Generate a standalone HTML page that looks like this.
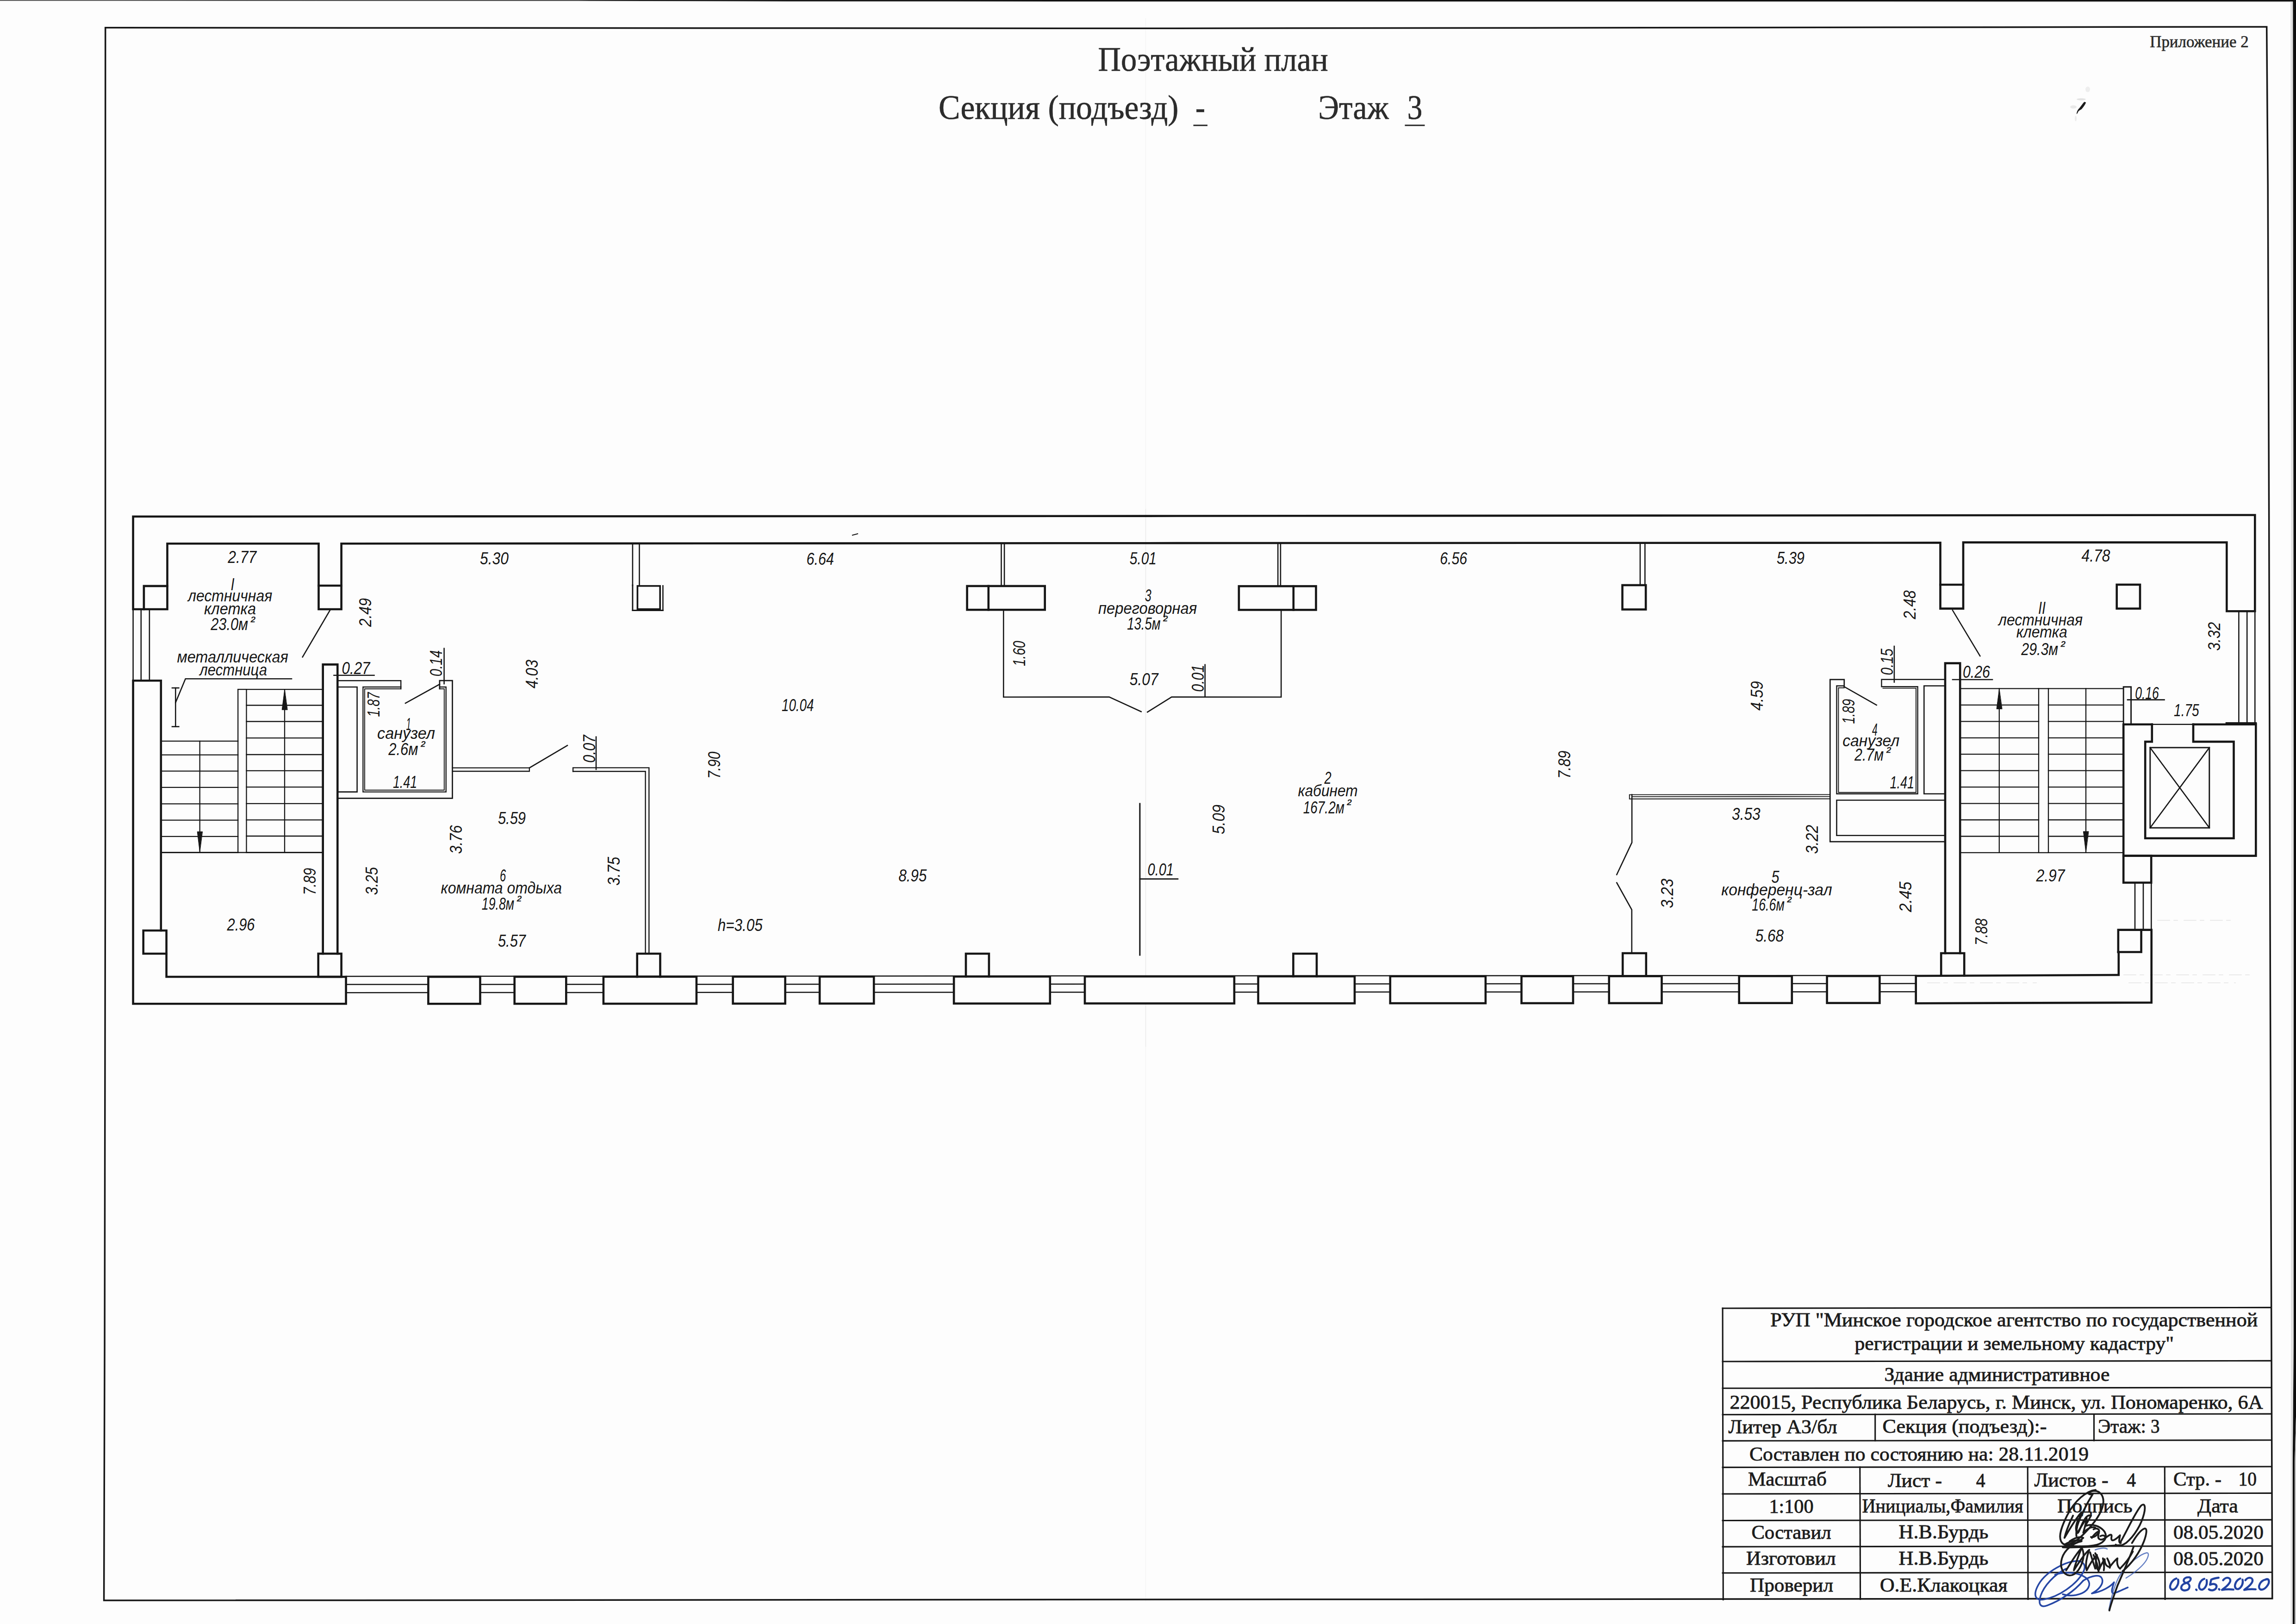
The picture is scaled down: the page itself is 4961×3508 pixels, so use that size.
<!DOCTYPE html>
<html lang="ru"><head><meta charset="utf-8"><title>Поэтажный план</title>
<style>
html,body{margin:0;padding:0;background:#fdfdfd;}
body{width:4961px;height:3508px;overflow:hidden;}
svg{display:block;}
.g{font-family:"Liberation Sans",sans-serif;font-style:italic;fill:#161616;stroke:none;}
.s{font-family:"Liberation Serif",serif;fill:#2c2c2c;stroke:#2c2c2c;stroke-width:0.7;}
.t{font-family:"Liberation Serif",serif;fill:#1c1c1c;stroke:#1c1c1c;stroke-width:0.85;}
</style></head><body>
<svg width="4961" height="3508" viewBox="0 0 4961 3508" fill="none" stroke="#161616" stroke-linecap="square" stroke-linejoin="miter">
<rect x="0" y="0" width="4961" height="3508" fill="#fdfdfd" stroke="none"/>
<g stroke="none">
<path d="M0,0 L4961,0 L4961,3.2 L3000,3.0 L1700,2.8 L1250,1.6 L0,1.3 Z" fill="#111"/>
<path d="M0,1.3 L1250,1.6 L1700,2.8 L3000,3.0 L4961,3.2 L4961,4.6 L3000,4.4 L1700,4.0 L1250,2.8 L0,2.5 Z" fill="#9a9a9a" opacity="0.5"/>
<path d="M4954.3,0 L4961,0 L4961,3060 L4958.2,3160 L4958.2,3508 L4953.8,3508 L4953.8,3160 L4955.9,2900 L4956,1700 Z" fill="#0e0e0e"/>
<path d="M4961,3060 L4958.2,3160 L4958.2,3508 L4961,3508 Z" fill="#c2c2c2"/>
<path d="M4949,4 L4954.3,4 L4956,1700 L4955.9,2900 L4953.8,3160 L4953.8,3508 L4949.5,3508 L4951,1700 Z" fill="#c8c8c8" opacity="0.5"/>
</g>
<line x1="2475.5" y1="40" x2="2475.5" y2="3460" stroke-width="1.4" style="stroke:#f4f4f4"/>
<line x1="2475.5" y1="1100" x2="2475.5" y2="2260" stroke-width="1.5" style="stroke:#eaeaea"/>
<g stroke-width="1.6" style="stroke:#e3e3e3" stroke-dasharray="26 9 8 14"><line x1="4589" y1="2105.7" x2="4871" y2="2105.7"/><line x1="4662" y1="1988" x2="4833" y2="1988"/><line x1="4165" y1="2123" x2="4400" y2="2123"/><line x1="4600" y1="2123" x2="4830" y2="2123"/></g>
<path d="M227.7,59.8 L2480.0,61.3 L4897.7,57.9 L4900.2,400.0 L4902.6,1100.0 L4905.5,2160.0 L4909.8,3453.0 L224.6,3457.1 L226.1,2900.0 L227.6,1800.0Z" stroke-width="3.5" fill="none" />
<g id="plan">
<path d="M287.6,1316.0 L361.5,1316.0 L361.5,1174.2 L688.5,1174.2 L688.5,1316.0 L737.6,1316.0 L737.6,1174.2 L2480.0,1173.2 L4192.5,1172.4 L4192.5,1314.6 L4242.0,1314.6 L4242.0,1171.6 L4811.3,1171.6 L4811.3,1320.2 L4872.3,1320.2 L4872.3,1112.5 L2480.0,1114.6 L287.6,1115.8Z" stroke-width="4.6" fill="none" />
<path d="M310.9,1316.0 L310.9,1265.9 L361.5,1265.9" stroke-width="4.6" fill="none" />
<line x1="688.5" y1="1265.0" x2="737.6" y2="1265.0" stroke-width="4.6"/>
<line x1="4192.5" y1="1263.0" x2="4242.0" y2="1263.0" stroke-width="4.6"/>
<line x1="1366.9" y1="1174.0" x2="1366.9" y2="1264.8" stroke-width="2.6"/>
<line x1="1381.5" y1="1174.0" x2="1381.5" y2="1264.8" stroke-width="2.6"/>
<line x1="2163.5" y1="1174.0" x2="2163.5" y2="1265.9" stroke-width="2.6"/>
<line x1="2170.1" y1="1174.0" x2="2170.1" y2="1265.9" stroke-width="2.6"/>
<line x1="2761.2" y1="1174.0" x2="2761.2" y2="1265.9" stroke-width="2.6"/>
<line x1="2766.9" y1="1174.0" x2="2766.9" y2="1265.9" stroke-width="2.6"/>
<line x1="3543.9" y1="1174.0" x2="3543.9" y2="1264.0" stroke-width="2.6"/>
<line x1="3554.3" y1="1174.0" x2="3554.3" y2="1264.0" stroke-width="2.6"/>
<line x1="1366.9" y1="1264.0" x2="1366.9" y2="1318.5" stroke-width="2.9"/>
<line x1="1366.9" y1="1318.5" x2="1432.4" y2="1318.5" stroke-width="2.9"/>
<line x1="1432.4" y1="1318.5" x2="1432.4" y2="1265.2" stroke-width="2.6"/>
<rect x="1377.4" y="1265.7" width="48.8" height="50.1" stroke-width="3.6" fill="none"/>
<rect x="2089.6" y="1265.9" width="168.1" height="51.3" stroke-width="4.6" fill="none"/>
<line x1="2135.8" y1="1265.9" x2="2135.8" y2="1317.2" stroke-width="4.6"/>
<rect x="2676.9" y="1266.2" width="166.6" height="51.2" stroke-width="4.6" fill="none"/>
<line x1="2794.8" y1="1266.2" x2="2794.8" y2="1317.4" stroke-width="4.6"/>
<rect x="3505.5" y="1264.0" width="50.6" height="52.5" stroke-width="4.6" fill="none"/>
<rect x="4573.7" y="1262.9" width="50.3" height="51.7" stroke-width="4.6" fill="none"/>
<line x1="287.6" y1="1317.0" x2="287.6" y2="1469.0" stroke-width="2.6"/>
<line x1="304.8" y1="1317.0" x2="304.8" y2="1469.0" stroke-width="2.6"/>
<line x1="322.9" y1="1317.0" x2="322.9" y2="1469.0" stroke-width="2.6"/>
<path d="M287.6,1470.3 L347.8,1470.3 L347.8,2010.0 L359.6,2010.0 L359.6,2110.0 L747.6,2110.0 L747.6,2168.3 L287.6,2168.3Z" stroke-width="4.6" fill="none" />
<path d="M347.8,2010.0 L309.7,2010.0 L309.7,2060.0 L359.6,2060.0" stroke-width="4.6" fill="none" />
<rect x="687.7" y="2060.0" width="49.9" height="50.0" stroke-width="4.6" fill="none"/>
<line x1="747.6" y1="2109.0" x2="4139.7" y2="2107.0" stroke-width="2.5"/>
<line x1="747.6" y1="2126.6" x2="4139.7" y2="2124.6" stroke-width="2.5"/>
<line x1="747.6" y1="2144.2" x2="4139.7" y2="2142.2" stroke-width="2.5"/>
<rect x="925.4" y="2110.0" width="112.1" height="58.3" stroke-width="4.6" fill="#fdfdfd"/>
<rect x="1111.7" y="2109.9" width="111.6" height="58.3" stroke-width="4.6" fill="#fdfdfd"/>
<rect x="1303.9" y="2109.8" width="201.0" height="58.3" stroke-width="4.6" fill="#fdfdfd"/>
<rect x="1583.6" y="2109.6" width="113.0" height="58.3" stroke-width="4.6" fill="#fdfdfd"/>
<rect x="1771.1" y="2109.5" width="117.1" height="58.3" stroke-width="4.6" fill="#fdfdfd"/>
<rect x="2061.1" y="2109.4" width="207.7" height="58.3" stroke-width="4.6" fill="#fdfdfd"/>
<rect x="2344.0" y="2109.2" width="322.9" height="58.3" stroke-width="4.6" fill="#fdfdfd"/>
<rect x="2718.6" y="2109.0" width="208.4" height="58.3" stroke-width="4.6" fill="#fdfdfd"/>
<rect x="3003.8" y="2108.8" width="206.1" height="58.3" stroke-width="4.6" fill="#fdfdfd"/>
<rect x="3287.5" y="2108.7" width="111.5" height="58.3" stroke-width="4.6" fill="#fdfdfd"/>
<rect x="3476.7" y="2108.6" width="113.8" height="58.3" stroke-width="4.6" fill="#fdfdfd"/>
<rect x="3757.7" y="2108.4" width="114.1" height="58.3" stroke-width="4.6" fill="#fdfdfd"/>
<rect x="3947.6" y="2108.3" width="113.8" height="58.3" stroke-width="4.6" fill="#fdfdfd"/>
<path d="M1376.7,2110.0 L1376.7,2060.0 L1426.5,2060.0 L1426.5,2110.0" stroke-width="4.6" fill="none" />
<path d="M2087.0,2109.3 L2087.0,2060.0 L2136.9,2060.0 L2136.9,2109.3" stroke-width="4.6" fill="none" />
<path d="M2794.4,2109.0 L2794.4,2060.0 L2845.0,2060.0 L2845.0,2109.0" stroke-width="4.6" fill="none" />
<path d="M3506.2,2108.3 L3506.2,2059.0 L3556.8,2059.0 L3556.8,2108.3" stroke-width="4.6" fill="none" />
<path d="M4139.7,2108.0 L4577.8,2106.0 L4577.8,2056.5 L4576.9,2056.5 L4576.9,2008.6 L4648.7,2008.6 L4648.7,2165.6 L4139.7,2167.2Z" stroke-width="4.6" fill="none" />
<path d="M4576.9,2056.5 L4626.6,2056.5 L4626.6,2008.6" stroke-width="4.6" fill="none" />
<path d="M4194.2,2107.5 L4194.2,2059.0 L4244.2,2059.0 L4244.2,2107.5" stroke-width="4.6" fill="none" />
<line x1="4613.0" y1="1907.0" x2="4613.0" y2="2008.0" stroke-width="2.6"/>
<line x1="4631.0" y1="1907.0" x2="4631.0" y2="2008.0" stroke-width="2.6"/>
<line x1="4648.3" y1="1907.0" x2="4648.3" y2="2008.0" stroke-width="2.6"/>
<rect x="4588.2" y="1848.6" width="60.0" height="58.0" stroke-width="4.6" fill="none"/>
<path d="M4649.8,1564.8 L4588.2,1564.8 L4588.2,1848.6 L4874.3,1848.6 L4874.3,1564.8 L4739.0,1564.8" stroke-width="4.6" fill="none" />
<line x1="4649.8" y1="1564.8" x2="4739.0" y2="1564.8" stroke-width="2.6"/>
<path d="M4649.8,1564.8 L4649.8,1602.1 L4635.2,1602.1 L4635.2,1810.8 L4826.5,1810.8 L4826.5,1602.1 L4739.0,1602.1 L4739.0,1564.8" stroke-width="4.6" fill="none" />
<rect x="4645.8" y="1614.9" width="128.0" height="173.3" stroke-width="2.9" fill="none"/>
<line x1="4645.8" y1="1614.9" x2="4773.8" y2="1788.2" stroke-width="2.6"/>
<line x1="4773.8" y1="1614.9" x2="4645.8" y2="1788.2" stroke-width="2.6"/>
<line x1="4811.0" y1="1562.3" x2="4874.0" y2="1562.3" stroke-width="4.6"/>
<line x1="4837.4" y1="1321.0" x2="4837.4" y2="1562.0" stroke-width="2.6"/>
<line x1="4855.2" y1="1321.0" x2="4855.2" y2="1562.0" stroke-width="2.6"/>
<line x1="4872.3" y1="1321.0" x2="4872.3" y2="1562.0" stroke-width="2.6"/>
<path d="M697.7,2060.0 L697.7,1435.4 L729.3,1435.4 L729.3,2060.0" stroke-width="4.6" fill="none" />
<path d="M4203.0,2059.0 L4203.0,1432.6 L4235.2,1432.6 L4235.2,2059.0" stroke-width="4.6" fill="none" />
<line x1="532.5" y1="1489.1" x2="696.0" y2="1489.1" stroke-width="2.3"/>
<line x1="532.5" y1="1523.5" x2="696.0" y2="1523.5" stroke-width="2.3"/>
<line x1="532.5" y1="1558.5" x2="696.0" y2="1558.5" stroke-width="2.3"/>
<line x1="532.5" y1="1594.2" x2="696.0" y2="1594.2" stroke-width="2.3"/>
<line x1="532.5" y1="1630.0" x2="696.0" y2="1630.0" stroke-width="2.3"/>
<line x1="532.5" y1="1664.9" x2="696.0" y2="1664.9" stroke-width="2.3"/>
<line x1="532.5" y1="1700.1" x2="696.0" y2="1700.1" stroke-width="2.3"/>
<line x1="532.5" y1="1735.9" x2="696.0" y2="1735.9" stroke-width="2.3"/>
<line x1="532.5" y1="1771.1" x2="696.0" y2="1771.1" stroke-width="2.3"/>
<line x1="532.5" y1="1806.0" x2="696.0" y2="1806.0" stroke-width="2.3"/>
<line x1="532.5" y1="1841.5" x2="696.0" y2="1841.5" stroke-width="2.3"/>
<line x1="514.2" y1="1489.1" x2="532.5" y2="1489.1" stroke-width="2.3"/>
<line x1="514.2" y1="1489.1" x2="514.2" y2="1841.5" stroke-width="2.3"/>
<line x1="532.5" y1="1489.1" x2="532.5" y2="1841.5" stroke-width="2.3"/>
<line x1="349.7" y1="1600.9" x2="514.2" y2="1600.9" stroke-width="2.3"/>
<line x1="349.7" y1="1630.7" x2="514.2" y2="1630.7" stroke-width="2.3"/>
<line x1="349.7" y1="1665.7" x2="514.2" y2="1665.7" stroke-width="2.3"/>
<line x1="349.7" y1="1700.9" x2="514.2" y2="1700.9" stroke-width="2.3"/>
<line x1="349.7" y1="1736.3" x2="514.2" y2="1736.3" stroke-width="2.3"/>
<line x1="349.7" y1="1771.6" x2="514.2" y2="1771.6" stroke-width="2.3"/>
<line x1="349.7" y1="1806.8" x2="514.2" y2="1806.8" stroke-width="2.3"/>
<line x1="349.7" y1="1841.5" x2="514.2" y2="1841.5" stroke-width="2.3"/>
<line x1="349.7" y1="1841.5" x2="696.0" y2="1841.5" stroke-width="2.3"/>
<line x1="431.7" y1="1600.9" x2="431.7" y2="1841.0" stroke-width="2.3"/>
<line x1="615.0" y1="1489.1" x2="615.0" y2="1841.5" stroke-width="2.3"/>
<path d="M615,1489.1 L609.2,1533.2 L620.8,1533.2 Z" style="fill:#161616" stroke-width="1"/>
<path d="M431.7,1841 L426.2,1796.5 L437.2,1796.5 Z" style="fill:#161616" stroke-width="1"/>
<line x1="379.3" y1="1486.0" x2="379.3" y2="1569.6" stroke-width="2.6"/>
<line x1="372.0" y1="1486.0" x2="386.3" y2="1486.0" stroke-width="2.6"/>
<line x1="372.0" y1="1569.6" x2="386.3" y2="1569.6" stroke-width="2.6"/>
<path d="M630.0,1466.2 L400.7,1466.2 L379.3,1517.9" stroke-width="2.6" fill="none" />
<line x1="712.9" y1="1318.3" x2="653.7" y2="1419.2" stroke-width="2.6"/>
<line x1="4236.0" y1="1487.4" x2="4405.0" y2="1487.4" stroke-width="2.3"/>
<line x1="4426.0" y1="1487.4" x2="4587.8" y2="1487.4" stroke-width="2.3"/>
<line x1="4236.0" y1="1522.9" x2="4405.0" y2="1522.9" stroke-width="2.3"/>
<line x1="4426.0" y1="1522.9" x2="4587.8" y2="1522.9" stroke-width="2.3"/>
<line x1="4236.0" y1="1558.3" x2="4405.0" y2="1558.3" stroke-width="2.3"/>
<line x1="4426.0" y1="1558.3" x2="4587.8" y2="1558.3" stroke-width="2.3"/>
<line x1="4236.0" y1="1593.8" x2="4405.0" y2="1593.8" stroke-width="2.3"/>
<line x1="4426.0" y1="1593.8" x2="4587.8" y2="1593.8" stroke-width="2.3"/>
<line x1="4236.0" y1="1629.2" x2="4405.0" y2="1629.2" stroke-width="2.3"/>
<line x1="4426.0" y1="1629.2" x2="4587.8" y2="1629.2" stroke-width="2.3"/>
<line x1="4236.0" y1="1664.7" x2="4405.0" y2="1664.7" stroke-width="2.3"/>
<line x1="4426.0" y1="1664.7" x2="4587.8" y2="1664.7" stroke-width="2.3"/>
<line x1="4236.0" y1="1700.1" x2="4405.0" y2="1700.1" stroke-width="2.3"/>
<line x1="4426.0" y1="1700.1" x2="4587.8" y2="1700.1" stroke-width="2.3"/>
<line x1="4236.0" y1="1735.6" x2="4405.0" y2="1735.6" stroke-width="2.3"/>
<line x1="4426.0" y1="1735.6" x2="4587.8" y2="1735.6" stroke-width="2.3"/>
<line x1="4236.0" y1="1771.0" x2="4405.0" y2="1771.0" stroke-width="2.3"/>
<line x1="4426.0" y1="1771.0" x2="4587.8" y2="1771.0" stroke-width="2.3"/>
<line x1="4236.0" y1="1806.5" x2="4405.0" y2="1806.5" stroke-width="2.3"/>
<line x1="4426.0" y1="1806.5" x2="4587.8" y2="1806.5" stroke-width="2.3"/>
<line x1="4236.0" y1="1841.9" x2="4405.0" y2="1841.9" stroke-width="2.3"/>
<line x1="4426.0" y1="1841.9" x2="4587.8" y2="1841.9" stroke-width="2.3"/>
<line x1="4405.0" y1="1487.4" x2="4426.0" y2="1487.4" stroke-width="2.3"/>
<line x1="4405.0" y1="1487.4" x2="4405.0" y2="1841.9" stroke-width="2.3"/>
<line x1="4426.0" y1="1487.4" x2="4426.0" y2="1841.9" stroke-width="2.3"/>
<line x1="4405.0" y1="1841.9" x2="4426.0" y2="1841.9" stroke-width="2.3"/>
<line x1="4319.8" y1="1487.4" x2="4319.8" y2="1841.9" stroke-width="2.3"/>
<line x1="4507.0" y1="1487.4" x2="4507.0" y2="1841.9" stroke-width="2.3"/>
<path d="M4319.8,1487.4 L4314,1531.5 L4325.6,1531.5 Z" style="fill:#161616" stroke-width="1"/>
<path d="M4507,1841.5 L4501.4,1796 L4512.6,1796 Z" style="fill:#161616" stroke-width="1"/>
<path d="M4588.2,1564.0 L4588.2,1483.8 L4604.6,1483.8 L4604.6,1564.0" stroke-width="2.9" fill="none" />
<line x1="4219.0" y1="1318.3" x2="4278.3" y2="1417.0" stroke-width="2.6"/>
<path d="M729.3,1470.2 L866.2,1470.2 L866.2,1488.0" stroke-width="2.4" fill="none" />
<path d="M866.2,1488.0 L788.0,1488.0 L788.0,1706.7 L959.8,1706.7 L959.8,1488.0 L949.9,1488.0" stroke-width="1.9" fill="none" />
<path d="M949.9,1488.0 L949.9,1470.2 L977.5,1470.2 L977.5,1724.4 L729.3,1724.4" stroke-width="2.6999999999999997" fill="none" />
<path d="M866.2,1484.0 L784.4,1484.0 L784.4,1710.6 L963.7,1710.6 L963.7,1484.0 L949.9,1484.0" stroke-width="2.4" fill="none" />
<path d="M729.3,1484.0 L771.6,1484.0 L771.6,1710.6 L729.3,1710.6" stroke-width="2.6" fill="none" />
<line x1="949.9" y1="1478.1" x2="876.0" y2="1519.1" stroke-width="2.6"/>
<path d="M3984.8,1483.3 L3984.8,1467.8 L3954.3,1467.8 L3954.3,1818.2 L4202.5,1818.2" stroke-width="2.6999999999999997" fill="none" />
<path d="M3984.8,1481.5 L3968.5,1481.5 L3968.5,1714.8 L4143.6,1714.8 L4143.6,1483.3 L4065.5,1483.3 L4065.5,1467.8 L4202.5,1467.8" stroke-width="2.4" fill="none" />
<path d="M3984.8,1485.8 L3972.4,1485.8 L3972.4,1711.7 L4139.9,1711.7 L4139.9,1486.6 L4068.5,1486.6" stroke-width="1.9" fill="none" />
<path d="M4202.5,1481.5 L4157.3,1481.5 L4157.3,1714.8 L4202.5,1714.8" stroke-width="2.6" fill="none" />
<path d="M4202.5,1728.5 L3968.5,1728.5 L3968.5,1804.7 L4202.5,1804.7" stroke-width="2.6" fill="none" />
<line x1="3984.8" y1="1483.3" x2="4054.6" y2="1522.9" stroke-width="2.6"/>
<path d="M977.5,1658.6 L1143.9,1658.6 L1143.9,1666.0 L977.5,1666.0" stroke-width="2.3" fill="none" />
<line x1="1143.9" y1="1658.6" x2="1225.9" y2="1610.2" stroke-width="2.6"/>
<path d="M1238.1,1666.2 L1238.1,1658.4 L1402.3,1658.4 L1402.3,2060.0" stroke-width="2.4" fill="none" />
<path d="M1238.1,1666.2 L1394.6,1666.2 L1394.6,2060.0" stroke-width="2.4" fill="none" />
<path d="M3954.3,1716.4 L3520.8,1716.6 L3520.8,1725.7 L3954.3,1725.5" stroke-width="1.9" fill="none" />
<line x1="3526.0" y1="1720.9" x2="3954.3" y2="1720.7" stroke-width="1.8"/>
<path d="M3526.1,1716.6 L3526.1,1819.9 L3493.3,1889.3" stroke-width="2.6" fill="none" />
<path d="M3493.3,1906.7 L3525.8,1965.0 L3525.8,2059.0" stroke-width="2.6" fill="none" />
<path d="M2168.3,1317.4 L2168.3,1505.7 L2396.7,1505.5 L2465.7,1537.2" stroke-width="2.6" fill="none" />
<path d="M2479.3,1538.2 L2531.5,1505.6 L2768.2,1505.7 L2768.2,1318.0" stroke-width="2.6" fill="none" />
<line x1="2462.9" y1="1736.0" x2="2462.9" y2="2063.0" stroke-width="3.0"/>
<line x1="721.5" y1="1458.8" x2="808.5" y2="1458.8" stroke-width="2.6"/>
<line x1="959.6" y1="1400.7" x2="959.6" y2="1477.0" stroke-width="2.6"/>
<line x1="1288.0" y1="1591.7" x2="1288.0" y2="1662.0" stroke-width="2.6"/>
<line x1="2603.7" y1="1435.8" x2="2603.7" y2="1505.7" stroke-width="2.6"/>
<line x1="2463.0" y1="1898.6" x2="2545.0" y2="1898.6" stroke-width="2.6"/>
<line x1="4092.9" y1="1396.0" x2="4092.9" y2="1473.5" stroke-width="2.6"/>
<line x1="4219.0" y1="1468.0" x2="4305.0" y2="1468.0" stroke-width="2.6"/>
<line x1="4597.0" y1="1511.6" x2="4676.5" y2="1511.6" stroke-width="2.6"/>
</g>
<path d="M1842,1156 L1853,1153" stroke-width="2.2"/>
<g stroke="none"><ellipse cx="4480" cy="231" rx="7" ry="3.5" fill="#e9e9e9"/><ellipse cx="4497" cy="214.5" rx="10" ry="2.2" fill="#e2e2e2"/><ellipse cx="4511" cy="193" rx="5" ry="6" fill="#eeeeee"/><ellipse cx="4485" cy="256" rx="2" ry="6" fill="#ebebeb"/><path d="M4486.8,246.5 C4487.5,240 4489.5,237 4493,233.5 C4496.5,229 4500,223.5 4503.5,220 L4507.3,221.2 C4505.5,226 4501.5,231.5 4497.5,236 C4494.5,238 4491.5,239 4490.3,241.5 C4489.3,244 4488.3,246 4486.8,246.5 Z" fill="#1a1a1a"/></g>
<text class="g" x="492.3" y="1215.9" font-size="37.5" textLength="61.9" lengthAdjust="spacingAndGlyphs">2.77</text>
<text class="g" x="1037.1" y="1218.8" font-size="37.5" textLength="61.9" lengthAdjust="spacingAndGlyphs">5.30</text>
<text class="g" x="1742.6" y="1219.9" font-size="37.5" textLength="59.4" lengthAdjust="spacingAndGlyphs">6.64</text>
<text class="g" x="2440.8" y="1219.2" font-size="37.5" textLength="58.2" lengthAdjust="spacingAndGlyphs">5.01</text>
<text class="g" x="3111.2" y="1218.7" font-size="37.5" textLength="59.0" lengthAdjust="spacingAndGlyphs">6.56</text>
<text class="g" x="3838.9" y="1218.2" font-size="37.5" textLength="60.1" lengthAdjust="spacingAndGlyphs">5.39</text>
<text class="g" x="4497.6" y="1212.5" font-size="37.5" textLength="61.9" lengthAdjust="spacingAndGlyphs">4.78</text>
<text class="g" x="1689.0" y="1535.9" font-size="37.5" textLength="69.4" lengthAdjust="spacingAndGlyphs">10.04</text>
<text class="g" x="2440.8" y="1480.3" font-size="37.5" textLength="61.9" lengthAdjust="spacingAndGlyphs">5.07</text>
<text class="g" x="738.5" y="1456.1" font-size="37.5" textLength="61.0" lengthAdjust="spacingAndGlyphs">0.27</text>
<text class="g" x="848.9" y="1702.1" font-size="37.5" textLength="52.3" lengthAdjust="spacingAndGlyphs">1.41</text>
<text class="g" x="1075.9" y="1780.4" font-size="37.5" textLength="60.1" lengthAdjust="spacingAndGlyphs">5.59</text>
<text class="g" x="1075.9" y="2044.6" font-size="37.5" textLength="60.1" lengthAdjust="spacingAndGlyphs">5.57</text>
<text class="g" x="490.5" y="2009.5" font-size="37.5" textLength="60.0" lengthAdjust="spacingAndGlyphs">2.96</text>
<text class="g" x="1550.7" y="2011.2" font-size="37.5" textLength="97.0" lengthAdjust="spacingAndGlyphs">h=3.05</text>
<text class="g" x="1941.4" y="1904.4" font-size="37.5" textLength="60.9" lengthAdjust="spacingAndGlyphs">8.95</text>
<text class="g" x="2479.5" y="1890.7" font-size="37.5" textLength="56.5" lengthAdjust="spacingAndGlyphs">0.01</text>
<text class="g" x="3742.1" y="1771.3" font-size="37.5" textLength="61.6" lengthAdjust="spacingAndGlyphs">3.53</text>
<text class="g" x="3792.7" y="2033.7" font-size="37.5" textLength="61.3" lengthAdjust="spacingAndGlyphs">5.68</text>
<text class="g" x="4399.5" y="1904.4" font-size="37.5" textLength="62.0" lengthAdjust="spacingAndGlyphs">2.97</text>
<text class="g" x="4083.4" y="1702.6" font-size="37.5" textLength="52.7" lengthAdjust="spacingAndGlyphs">1.41</text>
<text class="g" x="4240.9" y="1464.2" font-size="37.5" textLength="59.0" lengthAdjust="spacingAndGlyphs">0.26</text>
<text class="g" x="4613.2" y="1509.8" font-size="37.5" textLength="51.7" lengthAdjust="spacingAndGlyphs">0.16</text>
<text class="g" x="4697.1" y="1547.0" font-size="37.5" textLength="54.6" lengthAdjust="spacingAndGlyphs">1.75</text>
<text class="g" transform="translate(802.0,1354.1) rotate(-90)" font-size="37.5" textLength="62.1" lengthAdjust="spacingAndGlyphs">2.49</text>
<text class="g" transform="translate(955.1,1461.2) rotate(-90)" font-size="37.5" textLength="56.7" lengthAdjust="spacingAndGlyphs">0.14</text>
<text class="g" transform="translate(1162.1,1487.1) rotate(-90)" font-size="37.5" textLength="62.1" lengthAdjust="spacingAndGlyphs">4.03</text>
<text class="g" transform="translate(820.2,1548.6) rotate(-90)" font-size="37.5" textLength="53.2" lengthAdjust="spacingAndGlyphs">1.87</text>
<text class="g" transform="translate(1285.8,1647.8) rotate(-90)" font-size="37.5" textLength="60.3" lengthAdjust="spacingAndGlyphs">0.07</text>
<text class="g" transform="translate(1556.4,1681.9) rotate(-90)" font-size="37.5" textLength="58.4" lengthAdjust="spacingAndGlyphs">7.90</text>
<text class="g" transform="translate(997.6,1844.5) rotate(-90)" font-size="37.5" textLength="62.0" lengthAdjust="spacingAndGlyphs">3.76</text>
<text class="g" transform="translate(816.0,1933.2) rotate(-90)" font-size="37.5" textLength="60.3" lengthAdjust="spacingAndGlyphs">3.25</text>
<text class="g" transform="translate(681.9,1933.2) rotate(-90)" font-size="37.5" textLength="58.4" lengthAdjust="spacingAndGlyphs">7.89</text>
<text class="g" transform="translate(1339.4,1912.9) rotate(-90)" font-size="37.5" textLength="62.1" lengthAdjust="spacingAndGlyphs">3.75</text>
<text class="g" transform="translate(2215.0,1439.1) rotate(-90)" font-size="37.5" textLength="54.8" lengthAdjust="spacingAndGlyphs">1.60</text>
<text class="g" transform="translate(2600.8,1494.5) rotate(-90)" font-size="37.5" textLength="58.4" lengthAdjust="spacingAndGlyphs">0.01</text>
<text class="g" transform="translate(2645.9,1802.0) rotate(-90)" font-size="37.5" textLength="63.9" lengthAdjust="spacingAndGlyphs">5.09</text>
<text class="g" transform="translate(3393.2,1681.9) rotate(-90)" font-size="37.5" textLength="60.4" lengthAdjust="spacingAndGlyphs">7.89</text>
<text class="g" transform="translate(3808.7,1535.1) rotate(-90)" font-size="37.5" textLength="63.9" lengthAdjust="spacingAndGlyphs">4.59</text>
<text class="g" transform="translate(4139.4,1337.5) rotate(-90)" font-size="37.5" textLength="62.2" lengthAdjust="spacingAndGlyphs">2.48</text>
<text class="g" transform="translate(4089.6,1458.5) rotate(-90)" font-size="37.5" textLength="57.5" lengthAdjust="spacingAndGlyphs">0.15</text>
<text class="g" transform="translate(4006.7,1563.4) rotate(-90)" font-size="37.5" textLength="53.4" lengthAdjust="spacingAndGlyphs">1.89</text>
<text class="g" transform="translate(3615.0,1961.7) rotate(-90)" font-size="37.5" textLength="63.6" lengthAdjust="spacingAndGlyphs">3.23</text>
<text class="g" transform="translate(3928.2,1844.5) rotate(-90)" font-size="37.5" textLength="62.8" lengthAdjust="spacingAndGlyphs">3.22</text>
<text class="g" transform="translate(4129.6,1970.2) rotate(-90)" font-size="37.5" textLength="65.9" lengthAdjust="spacingAndGlyphs">2.45</text>
<text class="g" transform="translate(4293.5,2042.2) rotate(-90)" font-size="37.5" textLength="58.4" lengthAdjust="spacingAndGlyphs">7.88</text>
<text class="g" transform="translate(4797.1,1405.8) rotate(-90)" font-size="37.5" textLength="62.1" lengthAdjust="spacingAndGlyphs">3.32</text>
<text class="g" x="498.5" y="1274.7" font-size="37.5" textLength="8.0" lengthAdjust="spacingAndGlyphs">I</text>
<text class="g" x="406.0" y="1299.3" font-size="34.8" textLength="182.2" lengthAdjust="spacingAndGlyphs">лестничная</text>
<text class="g" x="441.0" y="1326.8" font-size="34.8" textLength="112.0" lengthAdjust="spacingAndGlyphs">клетка</text>
<text class="g" x="455.3" y="1361.3" font-size="37.5" textLength="80.7" lengthAdjust="spacingAndGlyphs">23.0м</text>
<text class="g" x="541.8" y="1343.5" font-size="16.5" style="stroke:#161616;stroke-width:0.7" textLength="10" lengthAdjust="spacingAndGlyphs">2</text>
<text class="g" x="382.4" y="1431.4" font-size="34.8" textLength="240.4" lengthAdjust="spacingAndGlyphs">металлическая</text>
<text class="g" x="431.2" y="1458.8" font-size="34.8" textLength="145.8" lengthAdjust="spacingAndGlyphs">лестница</text>
<text class="g" x="877.5" y="1577.2" font-size="37.5" textLength="10.5" lengthAdjust="spacingAndGlyphs">1</text>
<text class="g" x="815.1" y="1596.4" font-size="34.8" textLength="124.9" lengthAdjust="spacingAndGlyphs">санузел</text>
<text class="g" x="839.2" y="1631.0" font-size="37.5" textLength="64.2" lengthAdjust="spacingAndGlyphs">2.6м</text>
<text class="g" x="909.2" y="1613.3" font-size="16.5" style="stroke:#161616;stroke-width:0.7" textLength="10" lengthAdjust="spacingAndGlyphs">2</text>
<text class="g" x="1080.0" y="1903.7" font-size="37.5" textLength="13.2" lengthAdjust="spacingAndGlyphs">6</text>
<text class="g" x="952.6" y="1930.3" font-size="34.8" textLength="261.4" lengthAdjust="spacingAndGlyphs">комната отдыха</text>
<text class="g" x="1040.8" y="1964.8" font-size="37.5" textLength="70.4" lengthAdjust="spacingAndGlyphs">19.8м</text>
<text class="g" x="1117.0" y="1947.1" font-size="16.5" style="stroke:#161616;stroke-width:0.7" textLength="10" lengthAdjust="spacingAndGlyphs">2</text>
<text class="g" x="2473.7" y="1299.0" font-size="37.5" textLength="14.0" lengthAdjust="spacingAndGlyphs">3</text>
<text class="g" x="2372.9" y="1326.4" font-size="34.8" textLength="213.5" lengthAdjust="spacingAndGlyphs">переговорная</text>
<text class="g" x="2435.2" y="1360.1" font-size="37.5" textLength="72.3" lengthAdjust="spacingAndGlyphs">13.5м</text>
<text class="g" x="2513.3" y="1342.3" font-size="16.5" style="stroke:#161616;stroke-width:0.7" textLength="10" lengthAdjust="spacingAndGlyphs">2</text>
<text class="g" x="2861.6" y="1692.7" font-size="37.5" textLength="15.2" lengthAdjust="spacingAndGlyphs">2</text>
<text class="g" x="2804.5" y="1719.6" font-size="34.8" textLength="129.2" lengthAdjust="spacingAndGlyphs">кабинет</text>
<text class="g" x="2815.8" y="1756.8" font-size="37.5" textLength="89.0" lengthAdjust="spacingAndGlyphs">167.2м</text>
<text class="g" x="2910.6" y="1739.1" font-size="16.5" style="stroke:#161616;stroke-width:0.7" textLength="10" lengthAdjust="spacingAndGlyphs">2</text>
<text class="g" x="4045.0" y="1589.1" font-size="37.5" textLength="11.7" lengthAdjust="spacingAndGlyphs">4</text>
<text class="g" x="3981.2" y="1612.2" font-size="34.8" textLength="123.1" lengthAdjust="spacingAndGlyphs">санузел</text>
<text class="g" x="4007.1" y="1643.4" font-size="37.5" textLength="63.1" lengthAdjust="spacingAndGlyphs">2.7м</text>
<text class="g" x="4076.0" y="1625.7" font-size="16.5" style="stroke:#161616;stroke-width:0.7" textLength="10" lengthAdjust="spacingAndGlyphs">2</text>
<text class="g" x="3827.5" y="1906.5" font-size="37.5" textLength="17.0" lengthAdjust="spacingAndGlyphs">5</text>
<text class="g" x="3719.3" y="1934.0" font-size="34.8" textLength="239.4" lengthAdjust="spacingAndGlyphs">конференц-зал</text>
<text class="g" x="3785.3" y="1966.9" font-size="37.5" textLength="70.5" lengthAdjust="spacingAndGlyphs">16.6м</text>
<text class="g" x="3861.6" y="1949.1" font-size="16.5" style="stroke:#161616;stroke-width:0.7" textLength="10" lengthAdjust="spacingAndGlyphs">2</text>
<text class="g" x="4403.9" y="1326.0" font-size="37.5" textLength="16.1" lengthAdjust="spacingAndGlyphs">II</text>
<text class="g" x="4317.9" y="1351.2" font-size="34.8" textLength="182.1" lengthAdjust="spacingAndGlyphs">лестничная</text>
<text class="g" x="4356.7" y="1377.1" font-size="34.8" textLength="110.0" lengthAdjust="spacingAndGlyphs">клетка</text>
<text class="g" x="4367.3" y="1415.0" font-size="37.5" textLength="79.7" lengthAdjust="spacingAndGlyphs">29.3м</text>
<text class="g" x="4452.8" y="1397.3" font-size="16.5" style="stroke:#161616;stroke-width:0.7" textLength="10" lengthAdjust="spacingAndGlyphs">2</text>
<text class="s" x="2372.6" y="152.8" font-size="73.5" textLength="497.0" lengthAdjust="spacingAndGlyphs">Поэтажный план</text>
<text class="s" x="2028.0" y="256.5" font-size="73.5" textLength="518.4" lengthAdjust="spacingAndGlyphs">Секция (подъезд)</text>
<text class="s" x="2583.0" y="256.5" font-size="73.5" textLength="21.0" lengthAdjust="spacingAndGlyphs">-</text>
<text class="s" x="2848.2" y="256.5" font-size="73.5" textLength="152.5" lengthAdjust="spacingAndGlyphs">Этаж</text>
<text class="s" x="3040.8" y="256.5" font-size="73.5" textLength="32.6" lengthAdjust="spacingAndGlyphs">3</text>
<g stroke-width="3" style="stroke:#262626"><line x1="2580" y1="270.8" x2="2607.5" y2="270.8"/><line x1="3037" y1="270.8" x2="3077" y2="270.8"/></g>
<text class="s" x="4645.2" y="102.2" font-size="36.5" textLength="213.4" lengthAdjust="spacingAndGlyphs">Приложение 2</text>
<g id="tb" stroke-width="3.1">
<line x1="3722.1" y1="2826.0" x2="4907.0" y2="2824.4"/>
<line x1="3722.1" y1="2941.0" x2="4907.0" y2="2939.4"/>
<line x1="3722.1" y1="2998.8" x2="4907.0" y2="2997.2"/>
<line x1="3722.1" y1="3055.7" x2="4907.0" y2="3054.1"/>
<line x1="3722.1" y1="3112.4" x2="4907.0" y2="3110.8"/>
<line x1="3722.1" y1="3169.6" x2="4907.0" y2="3168.0"/>
<line x1="3722.1" y1="3227.0" x2="4907.0" y2="3225.4"/>
<line x1="3722.1" y1="3284.5" x2="4907.0" y2="3282.9"/>
<line x1="3722.1" y1="3341.1" x2="4907.0" y2="3339.5"/>
<line x1="3722.1" y1="3397.8" x2="4907.0" y2="3396.2"/>
<line x1="3722.1" y1="2826.0" x2="3723.2999999999997" y2="3455.5"/>
<line x1="4051.7" y1="3055.2" x2="4051.7" y2="3111.8"/>
<line x1="4524.5" y1="3055.2" x2="4524.5" y2="3111.8"/>
<line x1="4018.8" y1="3169" x2="4019.6000000000004" y2="3454.5"/>
<line x1="4381.2" y1="3169" x2="4382.0" y2="3454.5"/>
<line x1="4677.3" y1="3169" x2="4678.1" y2="3454.5"/>
</g>
<text class="t" x="3825.2" y="2865.0" font-size="43" textLength="1053.1" lengthAdjust="spacingAndGlyphs">РУП "Минское городское агентство по государственной</text>
<text class="t" x="4007.5" y="2915.9" font-size="43" textLength="689.6" lengthAdjust="spacingAndGlyphs">регистрации и земельному кадастру"</text>
<text class="t" x="4071.5" y="2982.7" font-size="43" textLength="486.9" lengthAdjust="spacingAndGlyphs">Здание административное</text>
<text class="t" x="3737.4" y="3042.6" font-size="43" textLength="1152.2" lengthAdjust="spacingAndGlyphs">220015, Республика Беларусь, г. Минск, ул. Пономаренко, 6А</text>
<text class="t" x="3734.6" y="3096.2" font-size="43" textLength="235.0" lengthAdjust="spacingAndGlyphs">Литер А3/бл</text>
<text class="t" x="4067.5" y="3094.5" font-size="43" textLength="355.0" lengthAdjust="spacingAndGlyphs">Секция (подъезд):-</text>
<text class="t" x="4533.0" y="3094.5" font-size="43" textLength="104.0" lengthAdjust="spacingAndGlyphs">Этаж:</text>
<text class="t" x="4647.0" y="3094.5" font-size="43" textLength="19.5" lengthAdjust="spacingAndGlyphs">3</text>
<text class="t" x="3779.9" y="3154.8" font-size="43" textLength="733.2" lengthAdjust="spacingAndGlyphs">Составлен по состоянию на: 28.11.2019</text>
<text class="t" x="3777.0" y="3208.6" font-size="43" textLength="169.9" lengthAdjust="spacingAndGlyphs">Масштаб</text>
<text class="t" x="4078.9" y="3211.5" font-size="43" textLength="117.1" lengthAdjust="spacingAndGlyphs">Лист -</text>
<text class="t" x="4269.7" y="3211.5" font-size="43" textLength="19.8" lengthAdjust="spacingAndGlyphs">4</text>
<text class="t" x="4395.4" y="3210.5" font-size="43" textLength="160.2" lengthAdjust="spacingAndGlyphs">Листов -</text>
<text class="t" x="4595.2" y="3210.5" font-size="43" textLength="19.8" lengthAdjust="spacingAndGlyphs">4</text>
<text class="t" x="4696.0" y="3209.0" font-size="43" textLength="104.0" lengthAdjust="spacingAndGlyphs">Стр. -</text>
<text class="t" x="4836.5" y="3209.0" font-size="43" textLength="39.5" lengthAdjust="spacingAndGlyphs">10</text>
<text class="t" x="3822.4" y="3268.0" font-size="43" textLength="96.2" lengthAdjust="spacingAndGlyphs">1:100</text>
<text class="t" x="4023.4" y="3267.0" font-size="43" textLength="348.2" lengthAdjust="spacingAndGlyphs">Инициалы,Фамилия</text>
<text class="t" x="4445.2" y="3266.5" font-size="43" textLength="162.5" lengthAdjust="spacingAndGlyphs">Подпись</text>
<text class="t" x="4748.1" y="3266.5" font-size="43" textLength="87.8" lengthAdjust="spacingAndGlyphs">Дата</text>
<text class="t" x="3784.4" y="3323.6" font-size="43" textLength="172.2" lengthAdjust="spacingAndGlyphs">Составил</text>
<text class="t" x="4102.6" y="3322.5" font-size="43" textLength="193.7" lengthAdjust="spacingAndGlyphs">Н.В.Бурдь</text>
<text class="t" x="4696.0" y="3323.5" font-size="43" textLength="194.8" lengthAdjust="spacingAndGlyphs">08.05.2020</text>
<text class="t" x="3773.1" y="3380.2" font-size="43" textLength="193.6" lengthAdjust="spacingAndGlyphs">Изготовил</text>
<text class="t" x="4102.6" y="3379.5" font-size="43" textLength="193.7" lengthAdjust="spacingAndGlyphs">Н.В.Бурдь</text>
<text class="t" x="4696.0" y="3380.7" font-size="43" textLength="194.8" lengthAdjust="spacingAndGlyphs">08.05.2020</text>
<text class="t" x="3781.0" y="3438.0" font-size="43" textLength="180.0" lengthAdjust="spacingAndGlyphs">Проверил</text>
<text class="t" x="4061.9" y="3437.5" font-size="43" textLength="275.7" lengthAdjust="spacingAndGlyphs">О.Е.Клакоцкая</text>
<g transform="translate(4361,3200) scale(0.1847)" fill="none" stroke-linecap="round" stroke-linejoin="round">
<g style="stroke:#2546a4" stroke-width="19">
<path d="M700,930 C560,930 330,1050 240,1200 C170,1320 190,1400 300,1380 C470,1350 680,1210 760,1060 C800,980 760,940 700,930"/>
<path d="M560,1020 C420,1090 300,1220 260,1340 C230,1440 260,1480 340,1450 C480,1400 650,1290 760,1160"/>
<path d="M430,1090 C520,1060 640,1060 720,1090 C830,1130 860,1200 800,1270 C740,1330 620,1350 520,1320"/>
<path d="M760,1160 C860,1100 960,1080 980,1140 C1000,1200 940,1270 860,1310 C980,1290 1080,1230 1120,1180 C1100,1240 1080,1300 1110,1310 C1160,1300 1230,1260 1280,1240"/>
</g>
<g style="stroke:#3d5fb5" stroke-width="13" opacity="0.8">
<path d="M1060,1500 C1080,1380 1130,1180 1200,1080 C1300,950 1430,850 1500,835 C1540,830 1520,900 1470,960 C1420,1020 1330,1090 1260,1130"/>
<path d="M900,800 C960,780 1010,770 1040,790"/>
</g>
<g style="stroke:#1b1b1b" stroke-width="21">
<path d="M905,100 C800,110 660,220 570,400 C500,540 470,640 500,700 C540,780 650,730 760,620 C880,500 990,360 995,240 C998,160 950,105 880,112 C820,120 800,160 860,150"/>
<path d="M870,150 C800,260 720,420 690,520 C670,600 690,640 720,560 C760,460 800,380 850,400 C820,460 790,500 780,530"/>
<path d="M640,400 C600,480 560,580 540,660 C600,560 680,420 740,360 C700,460 670,560 680,640"/>
<path d="M790,520 C860,490 960,520 1010,590 C1050,660 1000,730 880,750 C760,770 620,760 540,740 C600,700 680,680 740,690"/>
<path d="M860,660 C900,600 960,560 940,610 C920,680 960,700 1020,660 C1060,630 1100,600 1090,650 C1080,710 1120,700 1190,630 C1180,680 1170,720 1200,720"/>
<path d="M1190,720 C1280,560 1380,340 1440,280 C1480,250 1490,300 1470,380 C1440,500 1360,640 1260,720 C1200,760 1160,760 1140,740"/>
<path d="M1330,720 C1390,620 1440,560 1480,550 C1510,550 1500,620 1470,700 C1420,830 1330,960 1220,1050"/>
<path d="M1350,760 C1300,900 1220,1080 1160,1220 C1120,1330 1080,1440 1065,1510"/>
<path d="M700,440 C680,500 660,560 690,600 C720,560 760,480 800,430 C790,500 770,560 760,600 C800,560 850,520 900,540"/>
<path d="M880,560 C920,540 960,560 940,600 C910,640 880,660 850,650 M960,640 C1000,620 1030,640 1010,680"/>
<path d="M600,700 C660,660 720,640 760,660 C720,700 660,730 620,740"/>
<path d="M840,830 C860,900 880,960 900,1020 M900,840 C940,900 960,960 950,1020 M1040,900 C1060,940 1080,980 1070,1010"/>
<path d="M520,770 C660,775 900,765 1200,745"/>
<path d="M740,700 C640,720 540,800 510,900 C480,1000 520,1090 600,1100 C680,1100 740,1000 760,900 C770,830 750,770 720,760"/>
<path d="M560,1040 C620,940 700,820 740,780 C700,880 660,980 650,1040 C700,960 780,840 830,800 C800,880 780,980 800,1040 C830,980 880,900 920,860 C900,940 900,1010 940,1040 C960,990 990,940 1010,910 C1010,960 1030,1000 1070,1000 C1100,960 1130,920 1160,900 C1150,950 1160,1000 1190,1020"/>
<path d="M880,860 C900,900 930,960 940,1060 M990,900 C1000,950 1010,1000 1000,1040"/>
<path d="M1190,1020 C1250,960 1300,900 1340,820"/>
</g>
</g>
<g transform="translate(4561,3108) scale(0.2463)" fill="none" stroke-linecap="round" stroke-linejoin="round" style="stroke:#2243a2" stroke-width="18">
<path d="M575,1225 C530,1240 505,1300 530,1320 C560,1335 600,1280 590,1235"/>
<path d="M690,1215 C640,1210 620,1250 660,1265 C610,1275 600,1330 650,1330 C700,1325 700,1275 665,1262 C700,1250 710,1225 690,1215"/>
<path d="M748,1322 L752,1326"/>
<path d="M820,1228 C780,1240 760,1300 785,1320 C815,1335 850,1285 840,1238"/>
<path d="M945,1218 C915,1222 890,1230 880,1235 C875,1255 872,1270 870,1280 C900,1265 935,1275 925,1305 C915,1330 880,1335 860,1320"/>
<path d="M948,1318 L952,1322"/>
<path d="M985,1240 C1010,1205 1060,1215 1045,1255 C1030,1290 990,1310 975,1325 C1010,1318 1045,1318 1075,1322"/>
<path d="M1135,1225 C1095,1240 1075,1295 1100,1315 C1130,1330 1165,1280 1155,1235"/>
<path d="M1180,1240 C1205,1205 1255,1215 1240,1255 C1225,1290 1185,1310 1170,1325 C1205,1318 1240,1318 1270,1320"/>
<path d="M1355,1235 C1310,1245 1285,1300 1310,1320 C1345,1335 1395,1275 1385,1240 C1378,1228 1365,1230 1355,1235"/>
</g>
</svg>
</body></html>
